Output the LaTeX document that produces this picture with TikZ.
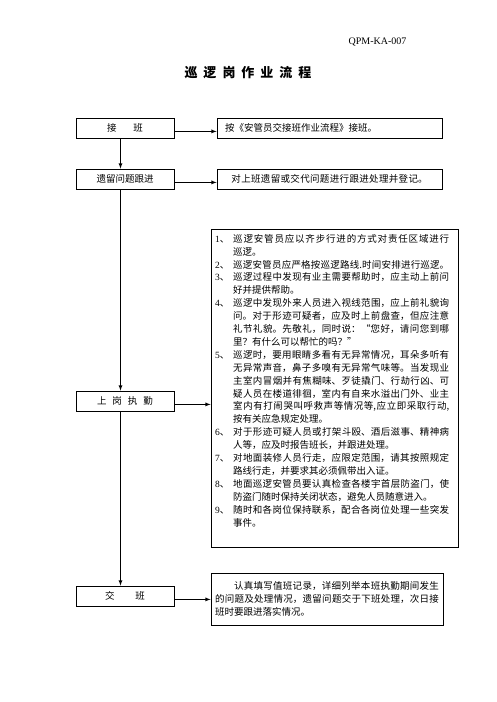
\documentclass[tikz,border=0pt]{standalone}
\usepackage{fontspec}
\setmainfont{Liberation Serif}
\newfontfamily\cjk{Noto Sans CJK SC}
\usetikzlibrary{arrows.meta}
\XeTeXlinebreaklocale "zh"
\XeTeXlinebreakskip=0pt plus 1pt
\tikzstyle{step-node}=[draw,line width=0.8pt,minimum width=98pt,minimum height=20pt,inner sep=0pt,font=\cjk\fontsize{9.5}{11}\selectfont]
\tikzstyle{note-node}=[draw,line width=0.8pt,minimum width=225pt,minimum height=20pt,inner xsep=8pt,inner ysep=0pt,text width=209pt,font=\cjk\fontsize{9.5}{11}\selectfont]
\tikzstyle{flow-line}=[line width=0.8pt,-latex]
\newcommand{\dutyitem}[2]{\hangindent=18pt\hangafter=1\noindent\makebox[18pt][l]{{\rmfamily #1}、}#2\par}

\begin{document}
\begin{tikzpicture}[x=1pt,y=-1pt]
        \useasboundingbox (0,0) rectangle (496,702);
        \begin{scope}
            \node[font=\fontsize{10}{10}\selectfont,anchor=east] at (410,42) (code) {QPM-KA-007};
            \node[font=\cjk\bfseries\fontsize{13}{13}\selectfont] at (248,73) (title) {巡\hspace{6pt}逻\hspace{6pt}岗\hspace{6pt}作\hspace{6pt}业\hspace{6pt}流\hspace{6pt}程};

    		\node[step-node] at (125,128) (s0) {接\hspace{17pt}班};
    		\node[step-node] at (125,179) (s1) {遗留问题跟进};
    		\node[step-node] at (125,401) (s2) {上\hspace{6pt}岗\hspace{6pt}执\hspace{6pt}勤};
    		\node[step-node] at (125,596) (s3) {交\hspace{21pt}班};

    		\node[note-node,align=left] at (329.5,128) (n0) {按《安管员交接班作业流程》接班。};
    		\node[note-node,align=center] at (329.5,179) (n1) {对上班遗留或交代问题进行跟进处理并登记。};
    		\node[draw,line width=0.8pt,minimum width=247pt,minimum height=318pt,inner sep=0pt] at (334.5,388) (n2) {};
    		\node[anchor=north west,inner sep=0pt,text width=234pt,align=justify,font=\cjk\fontsize{9.5}{12.9}\selectfont] at (215,234) (n2-list) {%
    			\dutyitem{1}{巡逻安管员应以齐步行进的方式对责任区域进行\linebreak
    			巡逻。}%
    			{\parfillskip=0pt\dutyitem{2}{巡逻安管员应严格按巡逻路线.时间安排进行巡逻。}}%
    			\dutyitem{3}{巡逻过程中发现有业主需要帮助时，应主动上前问\linebreak
    			好并提供帮助。}%
    			\dutyitem{4}{巡逻中发现外来人员进入视线范围，应上前礼貌询\linebreak
    			问。对于形迹可疑者，应及时上前盘查，但应注意\linebreak
    			礼节礼貌。先敬礼，同时说：“您好，请问您到哪\linebreak
    			里？有什么可以帮忙的吗？”}%
    			\dutyitem{5}{巡逻时，要用眼睛多看有无异常情况，耳朵多听有\linebreak
    			无异常声音，鼻子多嗅有无异常气味等。当发现业\linebreak
    			主室内冒烟并有焦糊味、歹徒撬门、行劫行凶、可\linebreak
    			疑人员在楼道徘徊，室内有自来水溢出门外、业主\linebreak
    			室内有打闹哭叫呼救声等情况等,应立即采取行动,\linebreak
    			按有关应急规定处理。}%
    			\dutyitem{6}{对于形迹可疑人员或打架斗殴、酒后滋事、精神病\linebreak
    			人等，应及时报告班长，并跟进处理。}%
    			\dutyitem{7}{对地面装修人员行走，应限定范围，请其按照规定\linebreak
    			路线行走，并要求其必须佩带出入证。}%
    			\dutyitem{8}{地面巡逻安管员要认真检查各楼宇首层防盗门，使\linebreak
    			防盗门随时保持关闭状态，避免人员随意进入。}%
    			\dutyitem{9}{随时和各岗位保持联系，配合各岗位处理一些突发\linebreak
    			事件。}%
    		};
    		\node[draw,line width=0.8pt,minimum width=232pt,minimum height=52pt,inner xsep=4pt,text width=224pt,align=justify,font=\cjk\fontsize{9.5}{13}\selectfont] at (327,599) (n3) {%
    			\noindent\hspace*{19pt}认真填写值班记录，详细列举本班执勤期间发生\linebreak
    			的问题及处理情况，遗留问题交于下班处理，次日接\linebreak
    			班时要跟进落实情况。};

    		\foreach \a/\b in {0/1, 1/2, 2/3}
    			\draw[flow-line] ([xshift=-4.5pt]s\a.south) -- ([xshift=-4.5pt]s\b.north);
    		\foreach \a in {0, 1, 2, 3}
    			\draw[flow-line] ([yshift=7pt]s\a.south east) -- ([yshift=7pt]s\a.south east -| n\a.west);
        \end{scope}
    \end{tikzpicture}
\end{document}
